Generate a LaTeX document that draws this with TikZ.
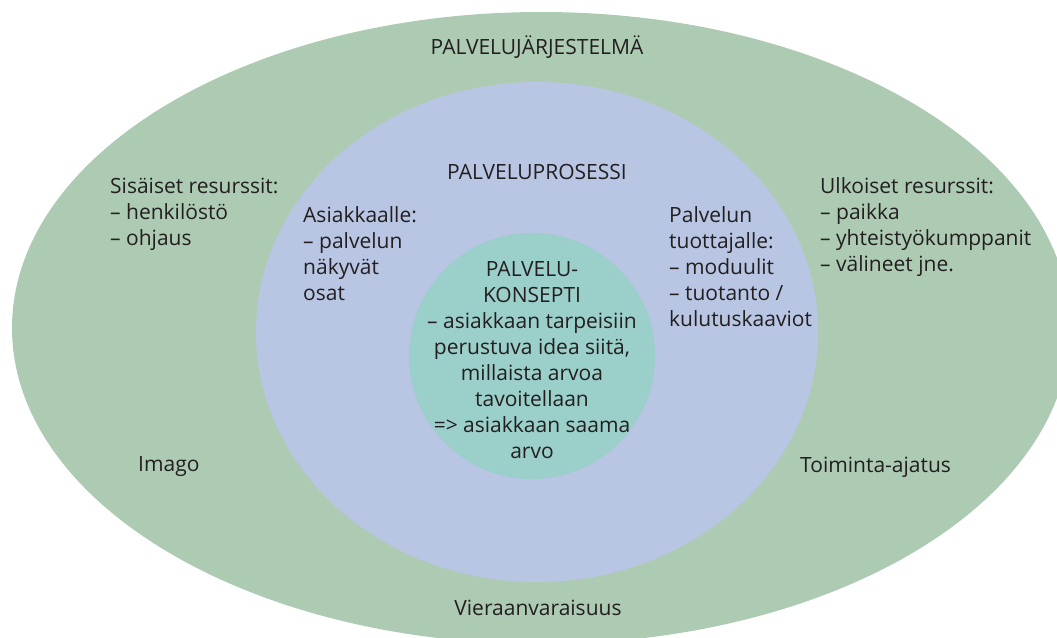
\documentclass[tikz,border=0pt]{standalone}
\usepackage{fontspec}
\setmainfont{Open Sans}
\definecolor{systemgreen}{HTML}{ADCBB3}
\definecolor{processblue}{HTML}{B8C6E3}
\definecolor{conceptteal}{HTML}{9BCFC9}
\definecolor{textgray}{HTML}{231F20}

\begin{document}
\begin{tikzpicture}[x=1pt,y=-1pt,
	lbl/.style={inner sep=0pt,text=textgray,font=\fontsize{21}{26}\selectfont},
	lefttxt/.style={lbl,align=left,anchor=west},
	midtxt/.style={lbl,align=center}]
\useasboundingbox (0,0) rectangle (1057,637);
\begin{scope}
\clip (0,0) rectangle (1057,637);
\fill[systemgreen] (541,328) ellipse [x radius=529pt, y radius=316pt];
\end{scope}
\fill[processblue] (537,332) ellipse [x radius=281pt, y radius=250pt];
\fill[conceptteal] (532,356) circle [radius=123pt];
% outer ring
\node[midtxt] (system) at (537,47) {PALVELUJÄRJESTELMÄ};
\node[lefttxt] (inres) at (110,214) {Sisäiset resurssit:\\– henkilöstö\\– ohjaus};
\node[lefttxt] (outres) at (820,227) {Ulkoiset resurssit:\\– paikka\\– yhteistyökumppanit\\– välineet jne.};
\node[lefttxt] (imago) at (138,467) {Imago};
\node[lefttxt] (idea) at (800,467) {Toiminta-ajatus};
\node[midtxt] (hosp) at (538,608) {Vieraanvaraisuus};
% middle ellipse
\node[midtxt] (process) at (537,172) {PALVELUPROSESSI};
\node[lefttxt] (customer) at (303,254) {Asiakkaalle:\\– palvelun\\näkyvät\\osat};
\node[lefttxt] (producer) at (669,267) {Palvelun\\tuottajalle:\\– moduulit\\– tuotanto /\\kulutuskaaviot};
% inner circle
\node[midtxt] (concept) at (532,360) {PALVELU-\\KONSEPTI\\– asiakkaan tarpeisiin\\perustuva idea siitä,\\millaista arvoa\\tavoitellaan\\=> asiakkaan saama\\arvo};
\end{tikzpicture}
\end{document}
